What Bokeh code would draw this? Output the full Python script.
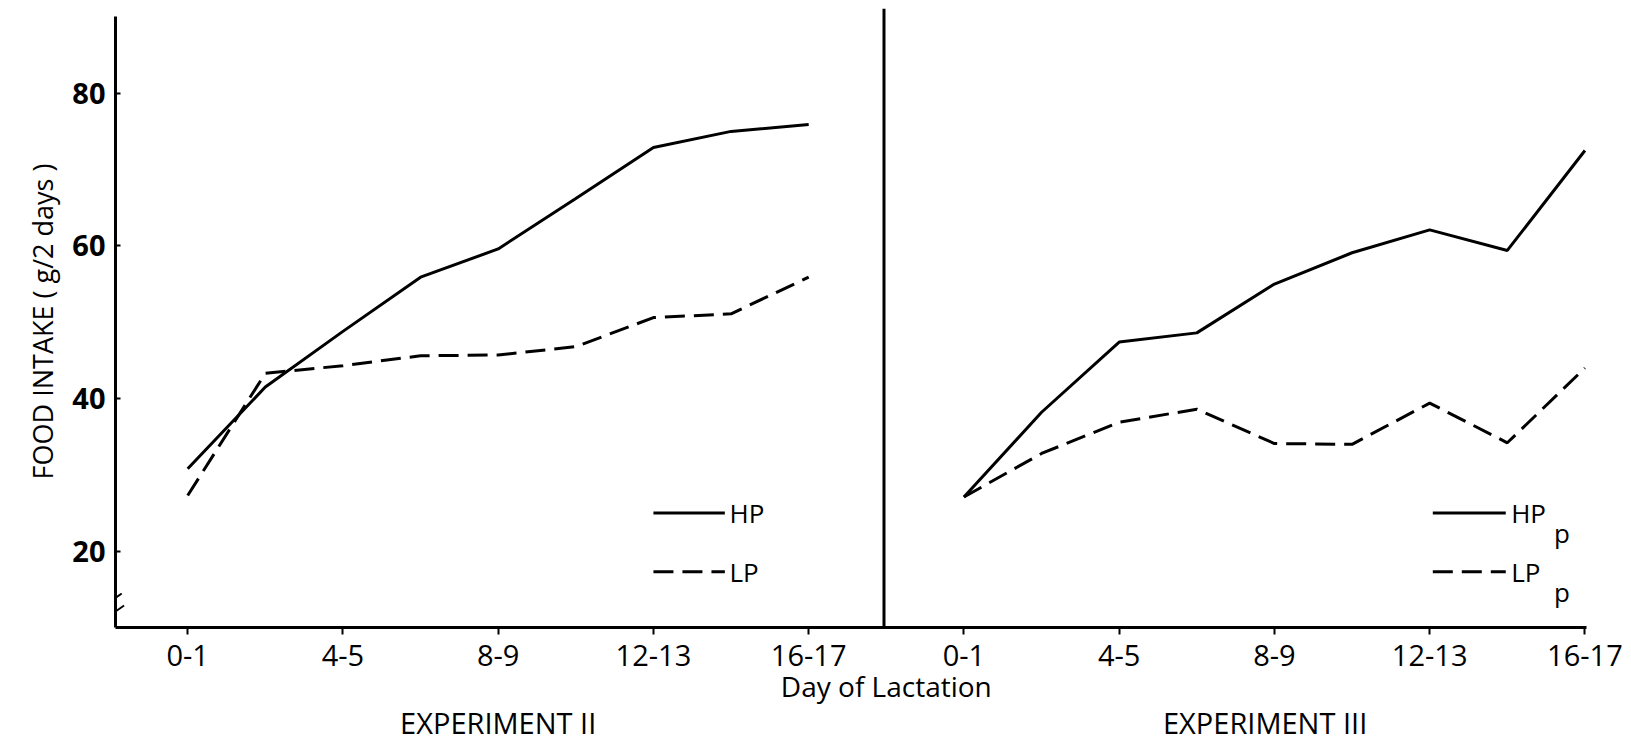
from bokeh.plotting import figure
from bokeh.models import FixedTicker, Span, Label, Range1d, LinearAxis
from bokeh.embed import file_html
from bokeh.resources import INLINE

# ---- data ----
days = ["0-1", "2-3", "4-5", "6-7", "8-9", "10-11", "12-13", "14-15", "16-17"]
exp2_hp = [30.8, 41.5, 48.8, 55.9, 59.6, 66.2, 72.9, 75.0, 75.9]
exp2_lp = [27.3, 43.3, 44.3, 45.6, 45.7, 46.8, 50.6, 51.1, 55.9]
exp3_hp = [27.1, 38.2, 47.4, 48.6, 55.0, 59.1, 62.1, 59.4, 72.5]
exp3_lp = [27.1, 32.8, 36.9, 38.6, 34.1, 34.0, 39.4, 34.2, 44.0]
y_ticks = [20, 40, 60, 80]
tick_days = ["0-1", "4-5", "8-9", "12-13", "16-17"]
panel_titles = ["EXPERIMENT II", "EXPERIMENT III"]
x_title = "Day of Lactation"
y_title = "FOOD INTAKE  ( g/2 days )"

FONT = "Open Sans"
offset = len(days) + 1  # second panel starts after a one-slot gap

x_left = list(range(len(days)))
x_right = [offset + i for i in range(len(days))]

p = figure(width=1626, height=744,
           x_range=Range1d(-0.93, 18.02),
           y_range=Range1d(10, 91.1),
           output_backend="svg", toolbar_location=None,
           min_border_left=115, min_border_right=40,
           min_border_top=8, min_border_bottom=116)
p.outline_line_color = None
p.xgrid.visible = False
p.ygrid.visible = False

# --- x axis: line, tick marks and tick labels
tick_pos = [days.index(d) for d in tick_days] + [offset + days.index(d) for d in tick_days]
ax0 = p.xaxis[0]
ax0.ticker = FixedTicker(ticks=tick_pos)
ax0.major_label_overrides = {pos: tick_days[i % len(tick_days)] for i, pos in enumerate(tick_pos)}
ax0.minor_tick_line_color = None
ax0.major_tick_in = 0
ax0.major_tick_out = 7
ax0.axis_line_width = 3
ax0.major_tick_line_width = 2
ax0.major_label_text_font = FONT
ax0.major_label_text_font_size = "29px"
ax0.major_label_text_color = "black"
ax0.major_label_standoff = 10

def text_axis(pos, texts, standoff, size):
    ax = LinearAxis(ticker=FixedTicker(ticks=pos),
                    major_label_overrides=dict(zip(pos, texts)),
                    axis_line_color=None, major_tick_line_color=None, minor_tick_line_color=None,
                    major_tick_in=0, major_tick_out=0, major_label_standoff=standoff,
                    major_label_text_font=FONT, major_label_text_font_size=size,
                    major_label_text_color="black")
    p.add_layout(ax, "below")
    return ax

# shared x title, centred on the separator; then the experiment names
text_axis([9.0], [x_title], -2, "28px")
text_axis([4.0, 13.88], panel_titles, -5, "29px")

# --- y axis
ay = p.yaxis[0]
ay.bounds = (10, 90.1)
ay.ticker = FixedTicker(ticks=y_ticks)
ay.minor_tick_line_color = None
ay.major_tick_in = 5
ay.major_tick_out = 0
ay.axis_line_width = 3
ay.major_tick_line_width = 2
ay.major_label_text_font = FONT
ay.major_label_text_font_size = "29px"
ay.major_label_text_font_style = "bold"
ay.major_label_text_color = "black"
ay.major_label_standoff = 10
ay.axis_label = y_title
ay.axis_label_text_font = FONT
ay.axis_label_text_font_size = "27px"
ay.axis_label_text_font_style = "normal"
ay.axis_label_text_color = "black"
ay.axis_label_standoff = 8

# separator between the two experiments
p.add_layout(Span(location=8.97, dimension="height", line_color="black", line_width=3))

# data lines
DASH = "20 9"
p.line(x_left, exp2_hp, line_color="black", line_width=3)
p.line(x_left, exp2_lp, line_color="black", line_width=3, line_dash=DASH)
p.line(x_right, exp3_hp, line_color="black", line_width=3)
p.line(x_right, exp3_lp, line_color="black", line_width=3, line_dash=DASH)

# legends (drawn by hand to allow the subscript)
leg_y = [25.0, 17.3]
p.segment(x0=[6.0, 16.04], y0=[leg_y[0]] * 2, x1=[6.92, 16.98], y1=[leg_y[0]] * 2,
          line_color="black", line_width=3)
p.segment(x0=[6.0, 16.04], y0=[leg_y[1]] * 2, x1=[6.92, 16.98], y1=[leg_y[1]] * 2,
          line_color="black", line_width=3, line_dash=DASH)

def lab(x, y, t, size="26px"):
    p.add_layout(Label(x=x, y=y, text=t, text_font=FONT, text_font_size=size,
                       text_align="left", text_baseline="middle", text_color="black"))

lab(6.98, leg_y[0], "HP")
lab(6.98, leg_y[1], "LP")
lab(17.05, leg_y[0], "HP")
lab(17.6, leg_y[0] - 2.6, "p")
lab(17.05, leg_y[1], "LP")
lab(17.6, leg_y[1] - 2.6, "p")

# axis break mark (the part inside the plotting frame)
p.segment(x0=[-1.07, -1.04], y0=[12.88, 11.31], x1=[-0.85, -0.82], y1=[14.45, 12.88],
          line_color="black", line_width=2)

open("out.html", "w").write(file_html(p, INLINE))
